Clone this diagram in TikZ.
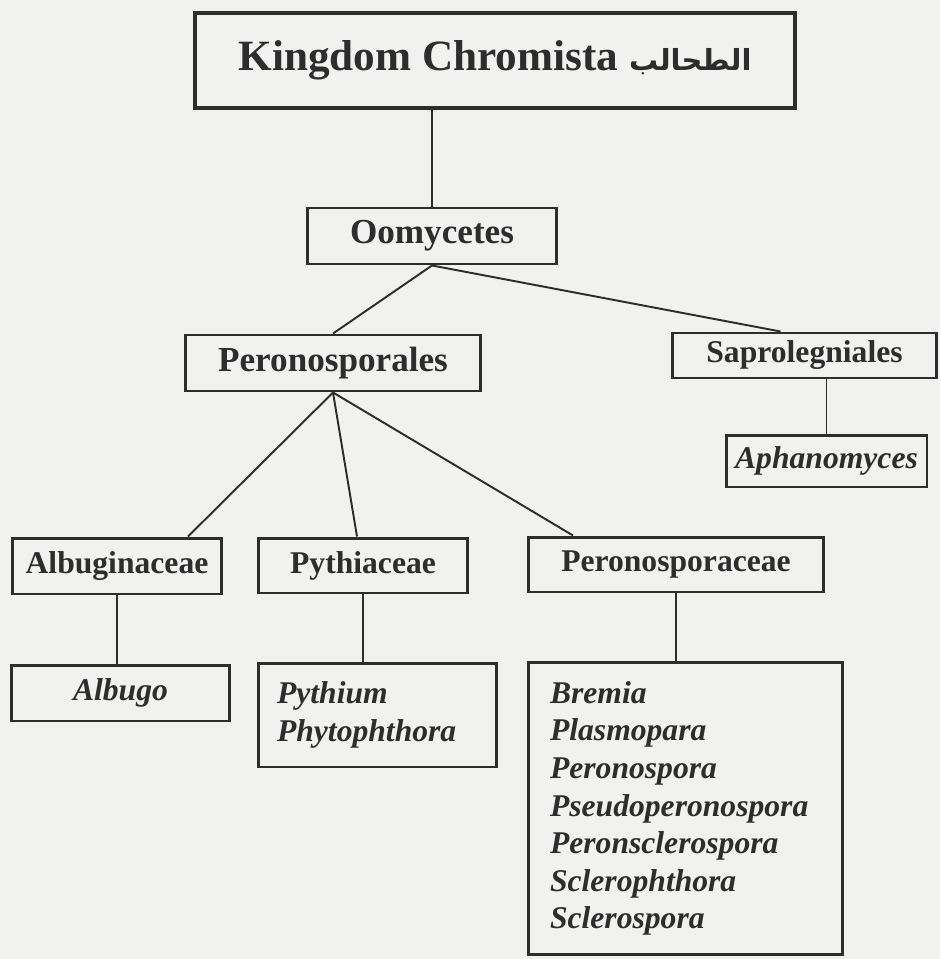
\documentclass[tikz,border=0pt]{standalone}
\usepackage{fontspec}
\setmainfont{Liberation Serif}
\newfontfamily\arabicfont[Script=Arabic]{DejaVu Sans}
\TeXXeTstate=1
\usetikzlibrary{calc}

\definecolor{paper}{RGB}{241,241,239}
\definecolor{ink}{RGB}{45,45,45}

\tikzset{
	box/.style={draw=ink, line width=1.7pt, text=ink, inner sep=0pt,
		font=\bfseries\fontsize{18}{21}\selectfont},
	genus/.style={box, font=\bfseries\itshape\fontsize{18}{21.4}\selectfont},
	link/.style={draw=ink, line width=1.1pt},
}

\begin{document}
\begin{tikzpicture}[x=0.02cm, y=-0.02cm]

	% page
	\fill[paper] (0,0) rectangle (940,959);
	\useasboundingbox (0,0) rectangle (940,959);

	% ranks
	\node[box, line width=2.3pt, minimum width=12cm, minimum height=1.9cm,
		font=\bfseries\fontsize{24.6}{28}\selectfont] (king) at (495,60.5)
		{Kingdom Chromista {\arabicfont\bfseries\fontsize{16.5}{20}\selectfont\beginR الطحالب\endR}};
	\node[box, minimum width=5cm, minimum height=1.12cm,
		font=\bfseries\fontsize{20}{24}\selectfont] (oomy) at (432,236) {Oomycetes};
	\node[box, minimum width=5.92cm, minimum height=1.12cm,
		font=\bfseries\fontsize{20}{24}\selectfont] (peronales) at (333,363) {Peronosporales};
	\node[box, minimum width=5.3cm, minimum height=0.9cm] (sapro) at (804.5,355.5) {Saprolegniales};

	% families
	\node[box, minimum width=4.2cm, minimum height=1.12cm] (albugin) at (117,566) {Albuginaceae};
	\node[box, minimum width=4.2cm, minimum height=1.1cm] (pythiac) at (363,565.5) {Pythiaceae};
	\node[box, minimum width=5.92cm, minimum height=1.1cm] (peronaceae) at (676,564.5) {Peronosporaceae};

	% genera
	\node[genus, minimum width=4.02cm, minimum height=1.04cm] (aphano) at (826.5,461) {Aphanomyces};
	\node[genus, minimum width=4.38cm, minimum height=1.12cm] (albugo) at (120.5,693) {Albugo};
	\node[genus, minimum height=2.08cm, inner xsep=0.38cm, text width=4.02cm, align=left]
		(pythium) at (377.5,715) {Pythium\\Phytophthora};
	\node[genus, minimum height=5.86cm, inner xsep=0.44cm, text width=5.42cm, align=left]
		(genera) at (685.5,808.5)
		{Bremia\\Plasmopara\\Peronospora\\Pseudoperonospora\\Peronsclerospora\\Sclerophthora\\Sclerospora};

	% links
	\draw[link] (oomy.north |- king.south) -- (oomy.north);
	\draw[link] (oomy.south) -- (peronales.north);
	\draw[link] (oomy.south) -- ($(sapro.north)+(-24,0)$);
	\draw[link] (aphano.north |- sapro.south) -- (aphano.north);
	\draw[link] (peronales.south) -- ($(albugin.north)+(71,0)$);
	\draw[link] (peronales.south) -- ($(pythiac.north)+(-6,0)$);
	\draw[link] (peronales.south) -- ($(peronaceae.north)+(-103,0)$);
	\draw[link] (albugin.south) -- (albugin.south |- albugo.north);
	\draw[link] (pythiac.south) -- (pythiac.south |- pythium.north);
	\draw[link] (peronaceae.south) -- (peronaceae.south |- genera.north);

\end{tikzpicture}
\end{document}
